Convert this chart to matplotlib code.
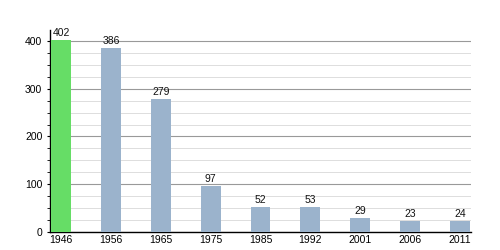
import numpy as np
import matplotlib
matplotlib.use("Agg")
import matplotlib.pyplot as plt
from matplotlib.ticker import MultipleLocator

years = ["1946", "1956", "1965", "1975", "1985", "1992", "2001", "2006", "2011"]
population = [402, 386, 279, 97, 52, 53, 29, 23, 24]
bar_colors = ["#66dd66"] + ["#9bb3cc"] * 8

plt.rcParams['font.family'] = ['Liberation Sans', 'DejaVu Sans']

fig = plt.figure(figsize=(5, 2.5), dpi=100)
ax = fig.add_axes([0.1, 0.072, 0.842, 0.808])

x = np.arange(len(years))
ax.bar(x, population, width=0.4, color=bar_colors, zorder=3)
for xi, v in zip(x, population):
    ax.text(xi, v + 4, str(v), ha="center", va="bottom", fontsize=7.5, color="#111111")

ax.set_xlim(-0.22, 8.22)
ax.set_ylim(0, 423)
ax.yaxis.set_major_locator(MultipleLocator(100))
ax.yaxis.set_minor_locator(MultipleLocator(25))
ax.grid(axis="y", which="major", color="#999999", linewidth=0.8, zorder=0)
ax.grid(axis="y", which="minor", color="#dddddd", linewidth=0.7, zorder=0)
ax.set_xticks(x)
ax.set_xticklabels(years)
ax.tick_params(axis="x", length=0, labelsize=7.5, pad=2)
ax.tick_params(axis="y", which="major", length=4, labelsize=7.5, direction="inout")
ax.tick_params(axis="y", which="minor", length=2.5, direction="out")
for s in ["top", "right"]:
    ax.spines[s].set_visible(False)
ax.spines["left"].set_linewidth(1)
ax.spines["bottom"].set_linewidth(1)

fig.savefig("out.png", dpi=100)
